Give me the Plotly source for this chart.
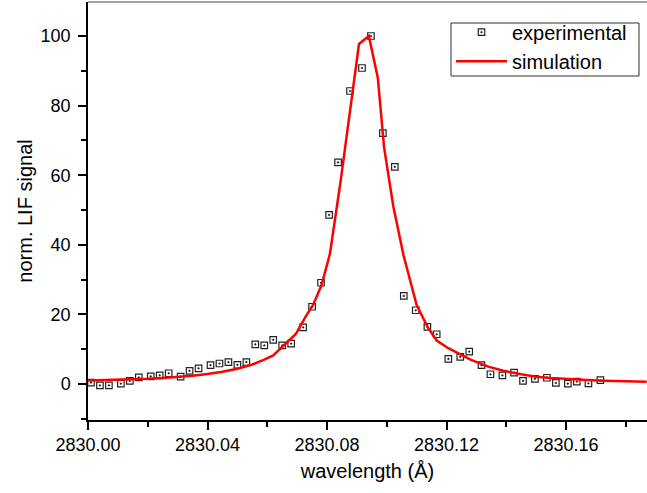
import plotly.graph_objects as go

BASE = 2830.0

# experimental points (offset from 2830 Å) and normalized LIF signal
exp_dx = [0.001, 0.004, 0.007, 0.011, 0.014, 0.017, 0.021, 0.024, 0.027, 0.031,
          0.034, 0.037, 0.041, 0.044, 0.047, 0.050, 0.053, 0.056, 0.059, 0.062,
          0.065, 0.068, 0.072, 0.075, 0.078, 0.0807, 0.0837, 0.0877, 0.0917, 0.0947,
          0.0987, 0.1027, 0.1057, 0.1097, 0.1136, 0.1167, 0.1206, 0.1246, 0.1276, 0.1317,
          0.1347, 0.1387, 0.1426, 0.1456, 0.1496, 0.1536, 0.1566, 0.1606, 0.1636, 0.1675,
          0.1715]
exp_y = [0.4, -0.4, -0.4, 0.1, 0.9, 1.9, 2.2, 2.5, 3.1, 2.1,
         3.8, 4.5, 5.4, 5.9, 6.3, 5.5, 6.3, 11.4, 11.1, 12.7,
         11.1, 11.6, 16.3, 22.2, 29.1, 48.6, 63.7, 84.2, 90.8, 100.0,
         72.1, 62.4, 25.3, 21.2, 16.4, 14.3, 7.2, 7.8, 9.3, 5.4,
         2.8, 2.5, 3.3, 0.9, 1.5, 1.8, 0.3, 0.1, 0.7, 0.2,
         1.1]

# simulation curve
sim_dx = [0.000, 0.005, 0.010, 0.015, 0.020, 0.025, 0.030, 0.035, 0.040, 0.045,
          0.050, 0.055, 0.059, 0.062, 0.066, 0.0695, 0.0726, 0.0755, 0.0782, 0.0810,
          0.0846, 0.0877, 0.0907, 0.0940, 0.0970, 0.0991, 0.1022, 0.1056, 0.1100, 0.1136,
          0.1167, 0.1206, 0.125, 0.128, 0.134, 0.139, 0.145, 0.150, 0.155, 0.161,
          0.167, 0.1725, 0.180, 0.187]
sim_y = [1.0, 1.1, 1.2, 1.35, 1.5, 1.75, 2.05, 2.4, 2.9, 3.5,
         4.4, 5.6, 7.0, 8.2, 11.5, 14.3, 19.0, 23.0, 28.5, 37.5,
         58.6, 78.0, 97.7, 100.0, 88.0, 68.0, 51.0, 37.0, 22.7, 16.5,
         12.5, 10.3, 8.3, 7.0, 5.0, 3.8, 2.8, 2.1, 1.7, 1.35,
         1.15, 0.95, 0.8, 0.67]

exp_x = [BASE + d for d in exp_dx]
sim_x = [BASE + d for d in sim_dx]

FONT = "Liberation Sans, Arial, sans-serif"

fig = go.Figure()
fig.add_trace(go.Scatter(
    x=exp_x, y=exp_y, mode="markers", name="experimental",
    marker=dict(symbol="square-open-dot", size=6.5, color="#222222",
                line=dict(width=1.2, color="#222222")),
))
fig.add_trace(go.Scatter(
    x=sim_x, y=sim_y, mode="lines", name="simulation",
    line=dict(color="#ff0000", width=2.5),
))

axis_common = dict(
    showgrid=False, zeroline=False, showline=True, linecolor="black", linewidth=1.5,
    ticks="outside", ticklen=8, tickwidth=1.5, tickcolor="black",
    tickfont=dict(family=FONT, size=18, color="black"),
)

fig.update_xaxes(
    range=[2830.0, 2830.1871], dtick=0.04, tick0=2830.0, tickformat=".2f",
    minor=dict(dtick=0.02, ticks="outside", ticklen=5, tickwidth=1.5, tickcolor="black"),
    title=dict(text="wavelength (Å)", standoff=10,
               font=dict(family=FONT, size=20, color="black")),
    **axis_common,
)
fig.update_yaxes(
    range=[-10.34, 109.77], dtick=20, tick0=0, ticklabelstandoff=4,
    minor=dict(dtick=10, ticks="outside", ticklen=5, tickwidth=1.5, tickcolor="black"),
    title=dict(text="norm. LIF signal", standoff=3,
               font=dict(family=FONT, size=20, color="black")),
    **axis_common,
)

# top frame line and legend box
fig.add_shape(type="line", xref="paper", yref="paper", x0=0, x1=1, y0=1, y1=1,
              line=dict(color="#808080", width=1.5))
fig.add_shape(type="rect", xref="paper", yref="paper",
              x0=(451 - 88) / 559, x1=(639 - 88) / 559,
              y0=1 - (76 - 2) / 418, y1=1 - (23 - 2) / 418,
              line=dict(color="#333333", width=1), fillcolor="white", layer="above")

fig.update_layout(
    width=647, height=493,
    margin=dict(l=88, r=0, t=2, b=73),
    paper_bgcolor="white", plot_bgcolor="white",
    font=dict(family=FONT, size=18, color="black"),
    legend=dict(x=(451 - 88) / 559, y=1 - (12.7 - 2) / 418, xanchor="left", yanchor="top",
                borderwidth=0, bgcolor="rgba(0,0,0,0)", itemwidth=51,
                font=dict(family=FONT, size=20, color="black"),
                tracegroupgap=0),
    showlegend=True,
)

fig.write_html("out.html")
